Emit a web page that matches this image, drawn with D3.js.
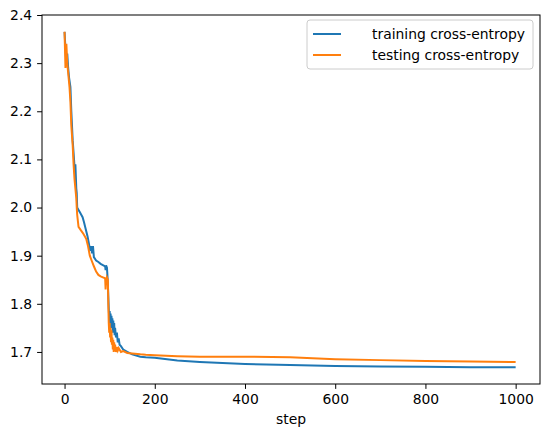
<!DOCTYPE html>
<html><head><meta charset="utf-8">
<script src="https://cdn.jsdelivr.net/npm/d3@7"></script>
<style>body{margin:0;background:#fff}text{font-family:"DejaVu Sans",sans-serif}</style>
</head><body>
<svg id="c" width="547" height="438"></svg>
<script>
const trainSteps = [0,2,4,6,8,10,13,15,18,21,23,24,26,27,28,31,34,37,40,43,47,51,54,57,59,61,63,65,70,75,80,86,90,91,92,94,95,96,98,99,100,101,102,103,104,105,106,107,108,109,110,111,112,114,116,118,120,122,125,130,139,150,168,180,200,250,300,400,500,600,700,800,900,1000];
const trainVals  = [2.365,2.33,2.30,2.32,2.29,2.27,2.25,2.20,2.14,2.10,2.07,2.09,2.04,2.03,2.00,1.995,1.99,1.985,1.98,1.97,1.955,1.94,1.925,1.91,1.92,1.905,1.92,1.897,1.89,1.887,1.883,1.88,1.878,1.87,1.88,1.875,1.86,1.84,1.79,1.77,1.785,1.76,1.78,1.75,1.775,1.755,1.77,1.74,1.765,1.745,1.76,1.735,1.75,1.73,1.74,1.72,1.728,1.715,1.712,1.705,1.70,1.695,1.69,1.689,1.688,1.682,1.679,1.675,1.673,1.671,1.670,1.669,1.668,1.668];
const testSteps = [0,2,4,6,8,11,13,15,18,20,22,24,26,27,28,31,36,42,48,52,56,60,65,70,75,80,85,90,91,92,94,96,97,98,99,100,101,102,103,104,105,106,107,108,109,110,111,112,114,116,118,120,125,130,139,150,168,180,200,250,300,400,500,600,700,800,900,1000];
const testVals  = [2.365,2.29,2.34,2.30,2.28,2.25,2.22,2.17,2.13,2.09,2.06,2.04,2.02,2.00,1.985,1.96,1.953,1.945,1.935,1.92,1.90,1.89,1.878,1.867,1.86,1.857,1.855,1.853,1.83,1.845,1.855,1.85,1.80,1.76,1.74,1.76,1.73,1.75,1.72,1.745,1.715,1.73,1.705,1.725,1.70,1.72,1.705,1.715,1.70,1.71,1.703,1.708,1.70,1.702,1.698,1.697,1.695,1.694,1.693,1.691,1.690,1.690,1.689,1.685,1.683,1.681,1.680,1.679,1.679,1.678,1.678,1.678];
const yTicks = [1.7,1.8,1.9,2.0,2.1,2.2,2.3,2.4];
const xTicks = [0,200,400,600,800,1000];

const svg = d3.select("#c");
const m = {l:42, t:15, r:540, b:384};
const x = d3.scaleLinear().domain([-50,1054]).range([m.l,m.r]);
const y = d3.scaleLinear().domain([1.6334,2.4]).range([m.b,m.t]);
const fs = 13.9;

const xa = svg.append("g").attr("transform",`translate(0,${m.b})`)
  .call(d3.axisBottom(x).tickValues(xTicks).tickFormat(d3.format("d")).tickSize(4.9).tickPadding(4.9));
const ya = svg.append("g").attr("transform",`translate(${m.l},0)`)
  .call(d3.axisLeft(y).tickValues(yTicks).tickFormat(d3.format(".1f")).tickSize(4.9).tickPadding(4.9));
[xa,ya].forEach(a=>{a.select(".domain").remove();a.selectAll("text").attr("font-size",fs).attr("fill","#000");a.selectAll("line").attr("stroke","#000");});

const line = d3.line().x(d=>x(d[0])).y(d=>y(d[1]));
svg.append("path").datum(trainSteps.map((s,i)=>[s,trainVals[i]])).attr("d",line)
  .attr("fill","none").attr("stroke","#1f77b4").attr("stroke-width",2);
svg.append("path").datum(testSteps.map((s,i)=>[s,testVals[i]])).attr("d",line)
  .attr("fill","none").attr("stroke","#ff7f0e").attr("stroke-width",2);

svg.append("rect").attr("x",m.l).attr("y",m.t).attr("width",m.r-m.l).attr("height",m.b-m.t)
  .attr("fill","none").attr("stroke","#000").attr("stroke-width",1);

svg.append("text").attr("x",(m.l+m.r)/2).attr("y",424).attr("text-anchor","middle").attr("font-size",fs).text("step");

const lg = svg.append("g");
lg.append("rect").attr("x",307).attr("y",20).attr("width",226).attr("height",49).attr("rx",3)
  .attr("fill","#fff").attr("fill-opacity",0.8).attr("stroke","#ccc");
[["training cross-entropy","#1f77b4",34],["testing cross-entropy","#ff7f0e",55]].forEach(([t,c,yy])=>{
  lg.append("line").attr("x1",313).attr("x2",341).attr("y1",yy).attr("y2",yy).attr("stroke",c).attr("stroke-width",2);
  lg.append("text").attr("x",372).attr("y",yy+5).attr("font-size",fs).text(t);
});
</script>
</body></html>
